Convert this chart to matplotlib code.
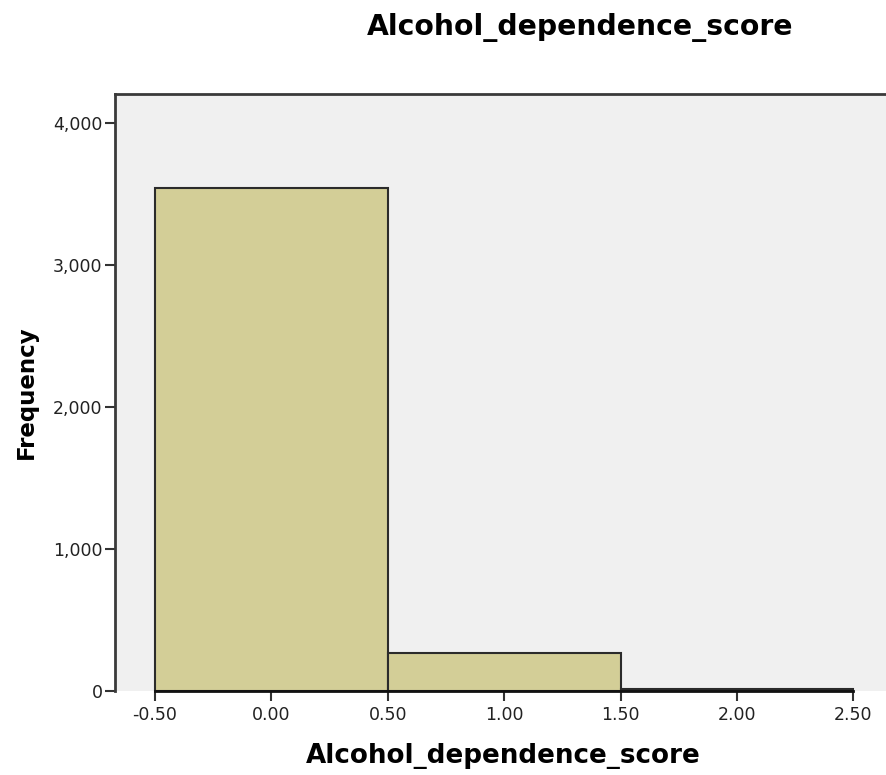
import matplotlib
matplotlib.use("Agg")
import matplotlib.pyplot as plt
from matplotlib.ticker import FuncFormatter

plt.rcParams['font.family'] = ['DejaVu Sans']

bin_edges = [-0.5, 0.5, 1.5, 2.5]
counts = [3540, 265, 12]
x_ticks = [-0.5, 0.0, 0.5, 1.0, 1.5, 2.0, 2.5]
y_ticks = [0, 1000, 2000, 3000, 4000]
title = "Alcohol_dependence_score"
xlabel = "Alcohol_dependence_score"
ylabel = "Frequency"

fig = plt.figure(figsize=(8.86, 7.75), dpi=100)
ax = fig.add_axes([115/886, 1-691/775, 1-115/886, (691-94)/775])
ax.set_facecolor('#F0F0F0')

lefts = bin_edges[:-1]
widths = [bin_edges[i+1]-bin_edges[i] for i in range(len(counts))]
ax.bar(lefts, counts, width=widths, align='edge', color='#D3CE97',
       edgecolor='#2b2b2b', linewidth=1.5, zorder=2)

ax.set_xlim(-0.672, 2.64)
ax.set_ylim(0, 4204)
ax.set_xticks(x_ticks)
ax.set_xticklabels([f"{v:.2f}" for v in x_ticks])
ax.set_yticks(y_ticks)
ax.yaxis.set_major_formatter(FuncFormatter(lambda v, p: f"{int(v):,}"))

for s in ['left', 'top', 'bottom']:
    ax.spines[s].set_color('#3a3a3a')
    ax.spines[s].set_linewidth(2)
ax.spines['right'].set_visible(False)
ax.spines['bottom'].set_bounds(-0.5, 2.5)
ax.spines['bottom'].set_color('#111111')

ax.tick_params(axis='both', direction='out', length=7, width=1.5,
               color='#333333', labelsize=12.5, labelcolor='#222222', pad=2)
ax.tick_params(axis='x', pad=4)

fig.text(503/886, 1-756/775, xlabel, fontsize=18.8, fontweight='bold',
         ha='center', va='center')
fig.text(26/886, 1-392/775, ylabel, fontsize=16.5, fontweight='bold',
         ha='center', va='center', rotation=90)
fig.text(580/886, 1-27/775, title, fontsize=20.3, fontweight='bold',
         ha='center', va='center')

fig.savefig('out.png', dpi=100)
